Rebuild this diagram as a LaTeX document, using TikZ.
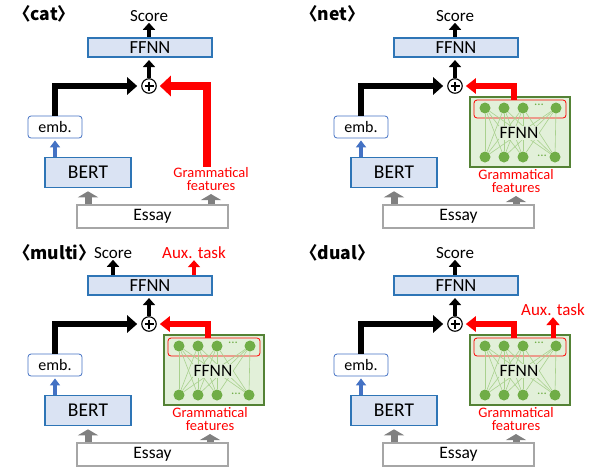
\documentclass[tikz,border=0pt]{standalone}
\usepackage{fontspec}
\setmainfont{Carlito}
\newfontfamily\cjk{Noto Sans CJK JP}
\usetikzlibrary{arrows.meta}
\usetikzlibrary{calc}

\definecolor{boxblue}{HTML}{DAE3F3}
\definecolor{lineblue}{HTML}{2E75B6}
\definecolor{embblue}{HTML}{4472C4}
\definecolor{boxgreen}{HTML}{E2F0D9}
\definecolor{linegreen}{HTML}{548235}
\definecolor{dotgreen}{HTML}{70AD47}
\definecolor{wiregreen}{HTML}{A9D18E}
\definecolor{essaygray}{HTML}{A6A6A6}
\definecolor{arrowgray}{HTML}{808080}

\tikzset{
	paneltitle/.style={anchor=west, inner sep=0pt, font=\cjk\bfseries\fontsize{17.5}{17.5}\selectfont},
	bluebox/.style={draw=lineblue, line width=1.6pt, fill=boxblue, inner sep=0pt},
	embbox/.style={draw=embblue, line width=0.8pt, fill=white, rounded corners=3pt,
		minimum width=54pt, minimum height=22pt, inner sep=0pt, font=\fontsize{16}{16}\selectfont},
	essaybox/.style={draw=essaygray, line width=1.3pt, fill=white, minimum width=151pt,
		minimum height=23pt, inner sep=0pt, font=\fontsize{17.5}{17.5}\selectfont},
	plusnode/.style={circle, draw, line width=1.1pt, minimum size=14.5pt, inner sep=0pt,
		path picture={\draw[line width=1.1pt]
			([yshift=4.5pt]path picture bounding box.center) -- ([yshift=-4.5pt]path picture bounding box.center)
			([xshift=-4.5pt]path picture bounding box.center) -- ([xshift=4.5pt]path picture bounding box.center);}},
	outtext/.style={inner sep=1pt, font=\fontsize{17}{17}\selectfont},
	gramtext/.style={text=red, align=center, inner sep=0pt, font=\fontsize{14.5}{13.5}\selectfont},
	netbox/.style={draw=linegreen, line width=1.6pt, fill=boxgreen, minimum width=100pt, minimum height=70pt},
	neuron/.style={circle, fill=dotgreen, minimum size=11pt, inner sep=0pt},
	netdots/.style={text=dotgreen, inner sep=0pt, font=\fontsize{13}{13}\selectfont},
	wire/.style={draw=wiregreen, line width=0.6pt},
	blackarrow/.style={line width=6pt, -{Triangle[length=10pt,width=17pt]}, shorten >=4pt},
	redarrow/.style={red, line width=6pt, -{Triangle[length=10pt,width=15pt]}, shorten >=3pt},
	smallarrow/.style={line width=4.5pt, -{Triangle[length=7pt,width=12pt]}},
	bluearrow/.style={embblue, line width=3.5pt, -{Triangle[length=7pt,width=10pt]}, shorten >=2pt},
	grayarrow/.style={arrowgray, line width=7pt, -{Triangle[length=6pt,width=20pt]}, shorten >=3pt},
}

% parts every panel has
\newcommand\panelbase[1]{%
	\node[bluebox, minimum width=124pt, minimum height=19.5pt, font=\fontsize{18.5}{18.5}\selectfont] (#1-ffnn) at (150,47.5) {FFNN};
	\node[plusnode] (#1-plus) at (149,86) {};
	\node[embbox] (#1-emb) at (55,127) {emb.};
	\node[bluebox, minimum width=86pt, minimum height=30pt, font=\fontsize{19.5}{19.5}\selectfont] (#1-bert) at (88,172.5) {BERT};
	\node[essaybox] (#1-essay) at (152.5,216.5) {Essay};
	\draw[bluearrow] (#1-bert.north -| #1-emb.south) -- (#1-emb.south);
	\draw[blackarrow] (#1-emb.north) |- (#1-plus.west);
	\draw[smallarrow, shorten >=2pt] (#1-plus.north) -- (#1-ffnn.south -| #1-plus.north);
	\draw[grayarrow] (#1-essay.north -| #1-bert.south) -- (#1-bert.south);
}

% small network for the grammatical features
\newcommand\gramnet[1]{%
	\node[netbox] (#1-net) at (214,132) {};
	\foreach \i/\x in {1/179,2/198,3/217,4/250}
		\node[neuron] (#1-t\i) at (\x,108) {};
	\foreach \i/\x in {1/179,2/198,3/217,4/249}
		\node[neuron] (#1-b\i) at (\x,157) {};
	\node[netdots] (#1-tdots) at (233,104.5) {...};
	\node[netdots] (#1-bdots) at (236,155.5) {...};
	\node[draw=red, line width=0.8pt, rounded corners=3pt, minimum width=92pt, minimum height=18pt] (#1-sel) at (214,109) {};
	\foreach \i in {1,...,4}
		\foreach \j in {1,...,4}
			\draw[wire] (#1-t\i) -- (#1-b\j);
	\node[fill=boxgreen, inner sep=1pt, font=\fontsize{17.5}{17.5}\selectfont] (#1-nettext) at (213,133) {FFNN};
	\node[gramtext] (#1-gram) at (210,181) {Grammatical\\features};
	\draw[redarrow] ([xshift=-6pt]#1-sel.north) |- (#1-plus.east);
	\draw[grayarrow] (#1-essay.north -| #1-gram.south) -- (#1-gram.south);
}

\begin{document}
\begin{tikzpicture}[x=1pt, y=-1pt]
	\useasboundingbox (0,0) rectangle (594,472);

	% <cat>
	\node[paneltitle] (cat-title) at (13,14) {〈cat〉};
	\panelbase{cat}
	\node[outtext] (cat-score) at (149,16) {Score};
	\draw[smallarrow] (cat-ffnn.north -| cat-score.south) -- (cat-score.south);
	\node[gramtext] (cat-gram) at (211,179) {Grammatical\\features};
	\draw[redarrow, line width=8pt, -{Triangle[length=11pt,width=20pt]}] ([xshift=-4pt]cat-gram.north) |- (cat-plus.east);
	\draw[grayarrow] (cat-essay.north -| cat-gram.south) -- (cat-gram.south);

	% <net>
	\node[paneltitle] (net-title) at (300,14) {〈net〉};
	\begin{scope}[shift={(306,0)}]
		\panelbase{net}
		\gramnet{net}
		\node[outtext] (net-score) at (149,16) {Score};
		\draw[smallarrow] (net-ffnn.north -| net-score.south) -- (net-score.south);
	\end{scope}

	% <multi>
	\node[paneltitle] (multi-title) at (13,253) {〈multi〉};
	\begin{scope}[shift={(0,238)}]
		\panelbase{multi}
		\gramnet{multi}
		\node[outtext] (multi-score) at (113,15) {Score};
		\node[outtext, text=red] (multi-aux) at (194,15) {Aux. task};
		\draw[smallarrow] (multi-ffnn.north -| multi-score.south) -- (multi-score.south);
		\draw[smallarrow, red] (multi-ffnn.north -| multi-aux.south) -- (multi-aux.south);
	\end{scope}

	% <dual>
	\node[paneltitle] (dual-title) at (300,253) {〈dual〉};
	\begin{scope}[shift={(306,238)}]
		\panelbase{dual}
		\gramnet{dual}
		\node[outtext] (dual-score) at (149,15) {Score};
		\node[outtext, text=red] (dual-aux) at (247,72) {Aux. task};
		\draw[smallarrow] (dual-ffnn.north -| dual-score.south) -- (dual-score.south);
		\draw[redarrow, shorten >=0pt, line width=5pt, -{Triangle[length=8pt,width=13pt]}] (dual-sel.north -| dual-aux.south) -- (dual-aux.south);
	\end{scope}
\end{tikzpicture}
\end{document}
